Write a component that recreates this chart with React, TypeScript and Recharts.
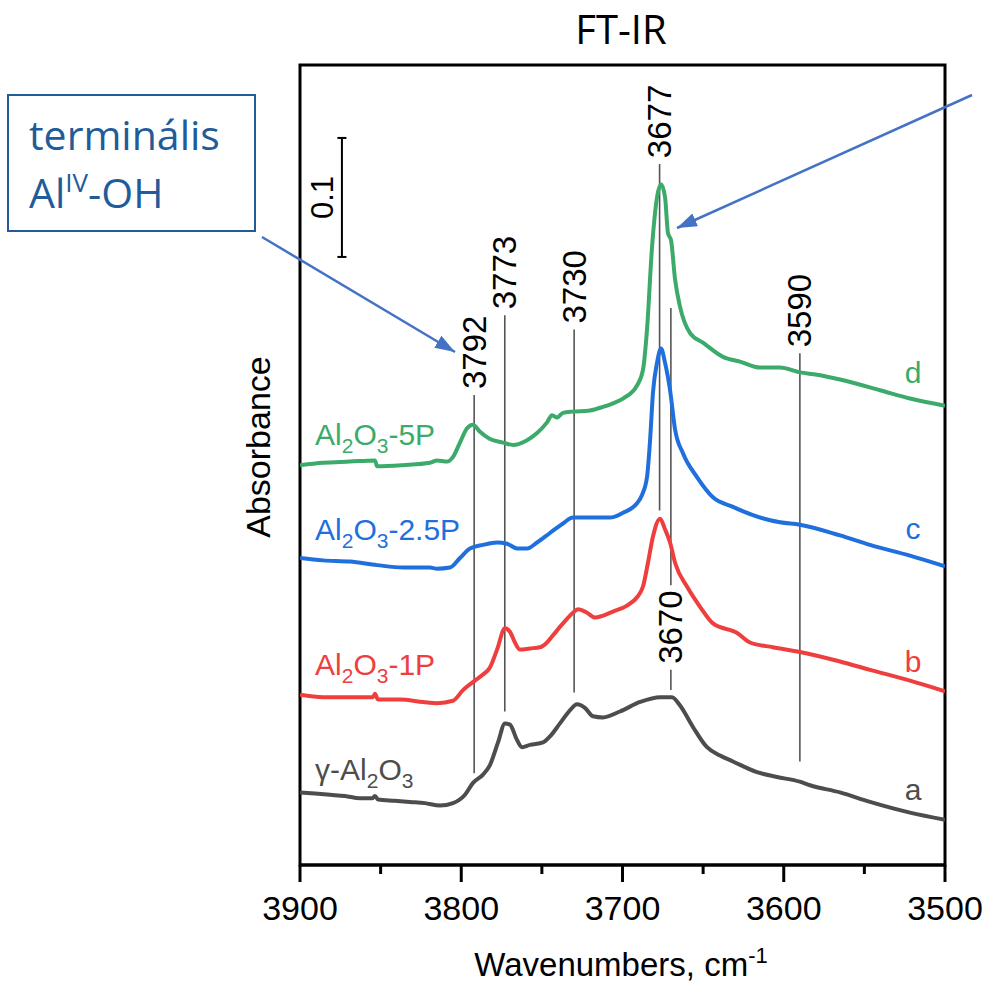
import React from 'react';
import { LineChart, Line, XAxis, YAxis, ReferenceLine, ReferenceArea } from 'recharts';

const ARIAL = '"Liberation Sans", Arial, sans-serif';
const CALIBRI = '"Open Sans", "Noto Sans", sans-serif';

const xTicks = [3900, 3850, 3800, 3750, 3700, 3650, 3600, 3550, 3500];
const yMax = 0.6723;

const colA = '#4d4d4d';
const colB = '#ee3e3e';
const colC = '#1f6fdd';
const colD = '#3caa6a';

// [wavenumber, absorbance (offset)]
const gammaAl2O3: [number, number][] = [
  [3900, 0.061], [3890.7, 0.06], [3881.4, 0.059], [3872.1, 0.058], [3862.8, 0.056], [3855.3, 0.056],
  [3853.5, 0.058], [3851.6, 0.055], [3841.1, 0.054], [3831.8, 0.053], [3822.5, 0.052], [3813.2, 0.05],
  [3805.1, 0.052], [3797.7, 0.059], [3792.7, 0.069], [3786.5, 0.076], [3782.2, 0.084], [3777.2, 0.103],
  [3772.9, 0.119], [3769.8, 0.118], [3765.4, 0.105], [3762.3, 0.099], [3757.4, 0.101], [3749.3, 0.103],
  [3745.0, 0.108], [3738.8, 0.119], [3732.6, 0.13], [3728.2, 0.135], [3723.3, 0.132], [3718.3, 0.125],
  [3712.1, 0.124], [3701.6, 0.129], [3689.1, 0.137], [3676.7, 0.141], [3669.3, 0.141], [3664.3, 0.134],
  [3656.3, 0.116], [3647.6, 0.099], [3639.5, 0.092], [3631.5, 0.087], [3616.6, 0.078], [3604.2, 0.074],
  [3590.0, 0.07], [3583.7, 0.067], [3565.1, 0.061], [3546.5, 0.053], [3521.7, 0.044], [3500, 0.038],
];

const al2o3_1P: [number, number][] = [
  [3900, 0.143], [3885.7, 0.141], [3870.9, 0.141], [3854.7, 0.141], [3853.5, 0.144], [3851.6, 0.139],
  [3838.0, 0.139], [3823.7, 0.137], [3815.0, 0.136], [3805.1, 0.138], [3798.9, 0.147], [3791.5, 0.155],
  [3786.5, 0.16], [3782.2, 0.166], [3777.8, 0.181], [3772.9, 0.199], [3769.8, 0.196], [3766.7, 0.187],
  [3763.6, 0.181], [3757.4, 0.182], [3751.2, 0.183], [3746.8, 0.187], [3743.1, 0.193], [3736.9, 0.203],
  [3730.7, 0.212], [3727.6, 0.215], [3722.0, 0.212], [3717.1, 0.208], [3705.9, 0.213], [3697.2, 0.218],
  [3691.0, 0.225], [3687.3, 0.234], [3684.2, 0.254], [3681.1, 0.276], [3676.7, 0.291], [3673.6, 0.282],
  [3670.5, 0.271], [3667.4, 0.254], [3660.0, 0.234], [3651.9, 0.217], [3643.9, 0.203], [3628.9, 0.195],
  [3620.9, 0.187], [3606.7, 0.183], [3590.0, 0.179], [3565.1, 0.171], [3546.5, 0.164], [3521.7, 0.155],
  [3500, 0.146],
];

const al2o3_2_5P: [number, number][] = [
  [3900, 0.258], [3885.7, 0.256], [3869.0, 0.255], [3852.2, 0.252], [3836.1, 0.25], [3819.4, 0.25],
  [3815.0, 0.249], [3807.0, 0.25], [3800.8, 0.258], [3794.6, 0.266], [3786.5, 0.269], [3777.8, 0.271],
  [3771.6, 0.27], [3765.4, 0.266], [3759.2, 0.266], [3753.0, 0.271], [3745.0, 0.279], [3736.9, 0.287],
  [3730.7, 0.292], [3720.2, 0.292], [3707.8, 0.292], [3699.7, 0.296], [3691.0, 0.304], [3687.9, 0.311],
  [3684.8, 0.326], [3682.9, 0.357], [3681.1, 0.397], [3678.6, 0.422], [3676.1, 0.434], [3673.6, 0.422],
  [3670.5, 0.399], [3667.4, 0.366], [3662.5, 0.346], [3653.8, 0.326], [3643.9, 0.309], [3631.5, 0.301],
  [3619.1, 0.294], [3602.3, 0.288], [3590.0, 0.286], [3565.1, 0.277], [3546.5, 0.269], [3521.7, 0.26],
  [3500, 0.251],
];

const al2o3_5P: [number, number][] = [
  [3900, 0.336], [3885.7, 0.338], [3869.0, 0.339], [3853.5, 0.34], [3852.2, 0.335], [3836.1, 0.336],
  [3819.4, 0.338], [3815.0, 0.34], [3808.8, 0.339], [3805.1, 0.343], [3800.8, 0.355], [3796.4, 0.367],
  [3792.7, 0.37], [3788.4, 0.364], [3782.2, 0.358], [3774.1, 0.355], [3767.9, 0.353], [3759.2, 0.357],
  [3753.0, 0.363], [3746.8, 0.372], [3743.7, 0.378], [3740.6, 0.376], [3736.9, 0.38], [3730.7, 0.381],
  [3720.2, 0.382], [3712.1, 0.385], [3705.9, 0.388], [3699.7, 0.392], [3691.0, 0.403], [3687.3, 0.416],
  [3684.8, 0.45], [3681.7, 0.519], [3678.6, 0.561], [3676.1, 0.572], [3673.6, 0.561], [3671.8, 0.531],
  [3669.9, 0.525], [3667.4, 0.492], [3664.3, 0.469], [3658.1, 0.447], [3650.1, 0.439], [3637.7, 0.427],
  [3627.1, 0.423], [3614.7, 0.418], [3602.3, 0.418], [3590.0, 0.414], [3579.4, 0.412], [3565.1, 0.408],
  [3540.3, 0.399], [3521.7, 0.392], [3500, 0.386],
];

const peakWn = [3792, 3773, 3730, 3677, 3670, 3670, 3590];
const peakLow = [0.077, 0.129, 0.145, 0.298, 0.235, 0.147, 0.087];
const peakHigh = [0.395, 0.462, 0.45, 0.589, 0.468, 0.164, 0.43];
const peakText = ['3792', '3773', '3730', '3677', '', '3670', '3590'];

const scaleWn = 3874;
const scaleLow = 0.511;
const scaleHigh = 0.611;
const scaleCapHalf = 2.8;

const rows = (arr: [number, number][]) => arr.map(([w, a]) => ({ w, a }));

const RotLabel = (props: any) => {
  const { viewBox, text } = props;
  if (!viewBox || !text) return null;
  const x = viewBox.x;
  const y = viewBox.y - 6;
  return (
    <text x={x} y={y} transform={`rotate(-90 ${x} ${y})`} textAnchor="start" dominantBaseline="central"
      fontSize={33} fontFamily={ARIAL} fill="#000">{text}</text>
  );
};

const ScaleLabel = (props: any) => {
  const { viewBox } = props;
  if (!viewBox) return null;
  const x = viewBox.x - 19;
  const y = viewBox.y + viewBox.height / 2;
  return (
    <text x={x} y={y} transform={`rotate(-90 ${x} ${y})`} textAnchor="middle" dominantBaseline="central"
      fontSize={31} fontFamily={ARIAL} fill="#000">0.1</text>
  );
};

const Tick = (props: any) => {
  const { x, y, payload } = props;
  const major = payload.value % 100 === 0;
  return (
    <g>
      <line x1={x} x2={x} y1={y} y2={y + (major ? 17 : 9)} stroke="#000" strokeWidth={3} />
      {major && (
        <text x={x} y={y + 55} textAnchor="middle" fontSize={34} fontFamily={ARIAL} fill="#000">{payload.value}</text>
      )}
    </g>
  );
};

const Formula = ({ x, y, color, pre, suffix }: any) => (
  <text x={x} y={y} fontSize={30} fontFamily={ARIAL} fill={color}>
    {pre}Al<tspan fontSize={21} dy={8}>2</tspan><tspan dy={-8}>O</tspan><tspan fontSize={21} dy={8}>3</tspan><tspan dy={-8}>{suffix}</tspan>
  </text>
);

export default function App() {
  return (
    <div style={{ position: 'absolute', left: 0, top: 0, width: 983, height: 986, background: '#fff' }}>
      <LineChart width={983} height={986} data={rows(gammaAl2O3)} margin={{ top: 65, right: 38, bottom: 61, left: 300 }}>
        <XAxis type="number" dataKey="w" domain={[3500, 3900]} reversed ticks={xTicks} interval={0}
          allowDataOverflow tick={<Tick />} tickLine={false} tickSize={0} tickMargin={0}
          axisLine={{ stroke: '#000', strokeWidth: 3 }} height={60} />
        <YAxis type="number" domain={[0, yMax]} hide allowDataOverflow />
        <ReferenceArea x1={3900} x2={3500} y1={0} y2={yMax} fill="none" fillOpacity={0} stroke="#000" strokeWidth={3} ifOverflow="visible" />
        {peakWn.map((w, i) => (
          <ReferenceLine key={'p' + i} segment={[{ x: w, y: peakLow[i] }, { x: w, y: peakHigh[i] }]}
            stroke="#555" strokeWidth={1.6} ifOverflow="visible" label={<RotLabel text={peakText[i]} />} />
        ))}
        <ReferenceLine segment={[{ x: scaleWn, y: scaleLow }, { x: scaleWn, y: scaleHigh }]} stroke="#000" strokeWidth={2}
          ifOverflow="visible" label={<ScaleLabel />} />
        <ReferenceLine segment={[{ x: scaleWn + scaleCapHalf, y: scaleLow }, { x: scaleWn - scaleCapHalf, y: scaleLow }]} stroke="#000" strokeWidth={2} ifOverflow="visible" />
        <ReferenceLine segment={[{ x: scaleWn + scaleCapHalf, y: scaleHigh }, { x: scaleWn - scaleCapHalf, y: scaleHigh }]} stroke="#000" strokeWidth={2} ifOverflow="visible" />
        <Line data={rows(gammaAl2O3)} dataKey="a" stroke={colA} strokeWidth={4} dot={false} type="monotone" isAnimationActive={false} />
        <Line data={rows(al2o3_1P)} dataKey="a" stroke={colB} strokeWidth={4} dot={false} type="monotone" isAnimationActive={false} />
        <Line data={rows(al2o3_2_5P)} dataKey="a" stroke={colC} strokeWidth={4} dot={false} type="monotone" isAnimationActive={false} />
        <Line data={rows(al2o3_5P)} dataKey="a" stroke={colD} strokeWidth={4} dot={false} type="monotone" isAnimationActive={false} />
      </LineChart>
      <svg width={983} height={986} style={{ position: 'absolute', left: 0, top: 0, pointerEvents: 'none' }}>
        <defs>
          <marker id="ah" markerWidth={20} markerHeight={14} refX={20} refY={7} orient="auto" markerUnits="userSpaceOnUse">
            <path d="M0,0 L20,7 L0,14 z" fill="#4472c4" />
          </marker>
        </defs>
        <text x={621} y={44} textAnchor="middle" fontSize={40} fontFamily={CALIBRI} fill="#000">FT-IR</text>
        <rect x={8} y={95} width={247} height={136} fill="#fff" stroke="#1f5c99" strokeWidth={2} />
        <text x={29} y={150} fontSize={41} fontFamily={CALIBRI} fill="#1f5c99">terminális</text>
        <text x={29} y={208} fontSize={41} fontFamily={CALIBRI} fill="#1f5c99">
          Al<tspan fontSize={26} dy={-16}>IV</tspan><tspan dy={16}>-OH</tspan>
        </text>
        <line x1={262} y1={237} x2={455} y2={352} stroke="#4472c4" strokeWidth={2.5} markerEnd="url(#ah)" />
        <line x1={972} y1={95} x2={677} y2={228} stroke="#4472c4" strokeWidth={2.5} markerEnd="url(#ah)" />
        <text x={258} y={447} transform="rotate(-90 258 447)" textAnchor="middle" dominantBaseline="central"
          fontSize={34} fontFamily={ARIAL} fill="#000">Absorbance</text>
        <text x={621} y={976} textAnchor="middle" fontSize={33} fontFamily={ARIAL} fill="#000">
          Wavenumbers, cm<tspan fontSize={22} dy={-13}>-1</tspan>
        </text>
        <Formula x={315} y={445} color={colD} pre="" suffix="-5P" />
        <Formula x={315} y={540} color={colC} pre="" suffix="-2.5P" />
        <Formula x={315} y={675} color={colB} pre="" suffix="-1P" />
        <Formula x={315} y={780} color={colA} pre="γ-" suffix="" />
        <text x={913} y={383} textAnchor="middle" fontSize={30} fontFamily={ARIAL} fill={colD}>d</text>
        <text x={913} y={539} textAnchor="middle" fontSize={30} fontFamily={ARIAL} fill={colC}>c</text>
        <text x={913} y={672} textAnchor="middle" fontSize={30} fontFamily={ARIAL} fill={colB}>b</text>
        <text x={913} y={800} textAnchor="middle" fontSize={30} fontFamily={ARIAL} fill={colA}>a</text>
      </svg>
    </div>
  );
}
